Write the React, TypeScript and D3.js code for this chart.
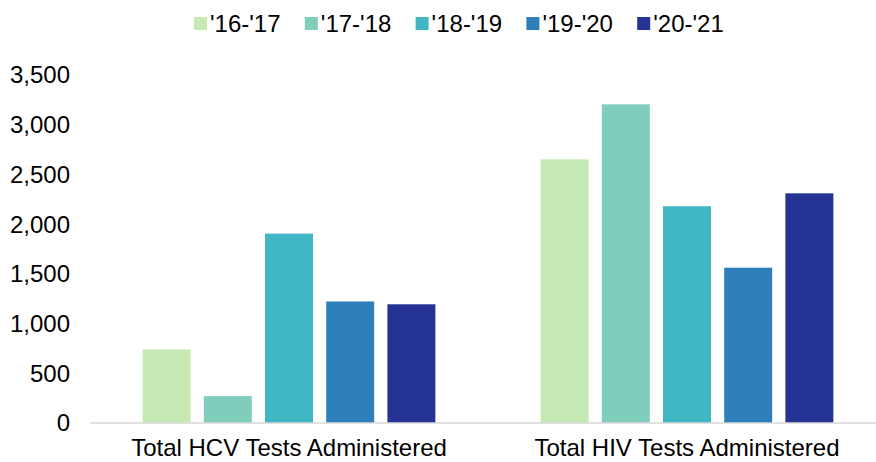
import React from 'react';
import * as d3 from 'd3';

const categories = ['Total HCV Tests Administered', 'Total HIV Tests Administered'];
const seriesNames = ["'16-'17", "'17-'18", "'18-'19", "'19-'20", "'20-'21"];
const seriesColors = ['#c7e9b4', '#7fcdbb', '#41b6c4', '#2c7fb8', '#253494'];
const hcvValues = [740, 270, 1905, 1222, 1194];
const hivValues = [2652, 3205, 2180, 1562, 2310];
const yTicks = [0, 500, 1000, 1500, 2000, 2500, 3000, 3500];

const width = 876;
const height = 462;
const font = 'Liberation Sans, Arial, sans-serif';

const App = () => {
  const values = [hcvValues, hivValues];

  const y = d3.scaleLinear().domain([0, 3500]).range([423, 75]);
  const x0 = d3.scaleBand<string>().domain(categories).range([90, 886]);
  const x1 = d3.scaleBand<string>()
    .domain(seriesNames)
    .range([0, x0.bandwidth()])
    .paddingInner(0.216)
    .paddingOuter(0.86);
  // legend positions
  const lx = d3.scaleBand<string>().domain(seriesNames).range([194, 748]);
  const fmt = d3.format(',');

  return (
    <svg width={width} height={height} style={{ position: 'absolute', left: 0, top: 0 }}>
      {/* legend */}
      <g fontFamily={font} fontSize={24} fill="#000">
        {seriesNames.map((s, i) => (
          <g key={s} transform={`translate(${lx(s)},17)`}>
            <rect width={13} height={13} fill={seriesColors[i]} />
            <text x={16} y={15}>{s}</text>
          </g>
        ))}
      </g>

      {/* y axis labels */}
      <g fontFamily={font} fontSize={24} fill="#000" textAnchor="end">
        {yTicks.map(t => (
          <text key={t} x={70} y={y(t)} dy="0.35em">{fmt(t)}</text>
        ))}
      </g>

      {/* bars */}
      {categories.map((c, ci) => (
        <g key={c} transform={`translate(${x0(c)},0)`}>
          {seriesNames.map((s, si) => (
            <rect
              key={s}
              x={x1(s)}
              y={y(values[ci][si])}
              width={x1.bandwidth()}
              height={y(0) - y(values[ci][si])}
              fill={seriesColors[si]}
            />
          ))}
        </g>
      ))}

      {/* baseline */}
      <line x1={90} x2={886} y1={y(0)} y2={y(0)} stroke="#d9d9d9" strokeWidth={1.5} />

      {/* category labels */}
      <g fontFamily={font} fontSize={24} fill="#000" textAnchor="middle">
        {categories.map(c => (
          <text key={c} x={(x0(c) ?? 0) + x0.bandwidth() / 2} y={456}>{c}</text>
        ))}
      </g>
    </svg>
  );
};

export default App;
